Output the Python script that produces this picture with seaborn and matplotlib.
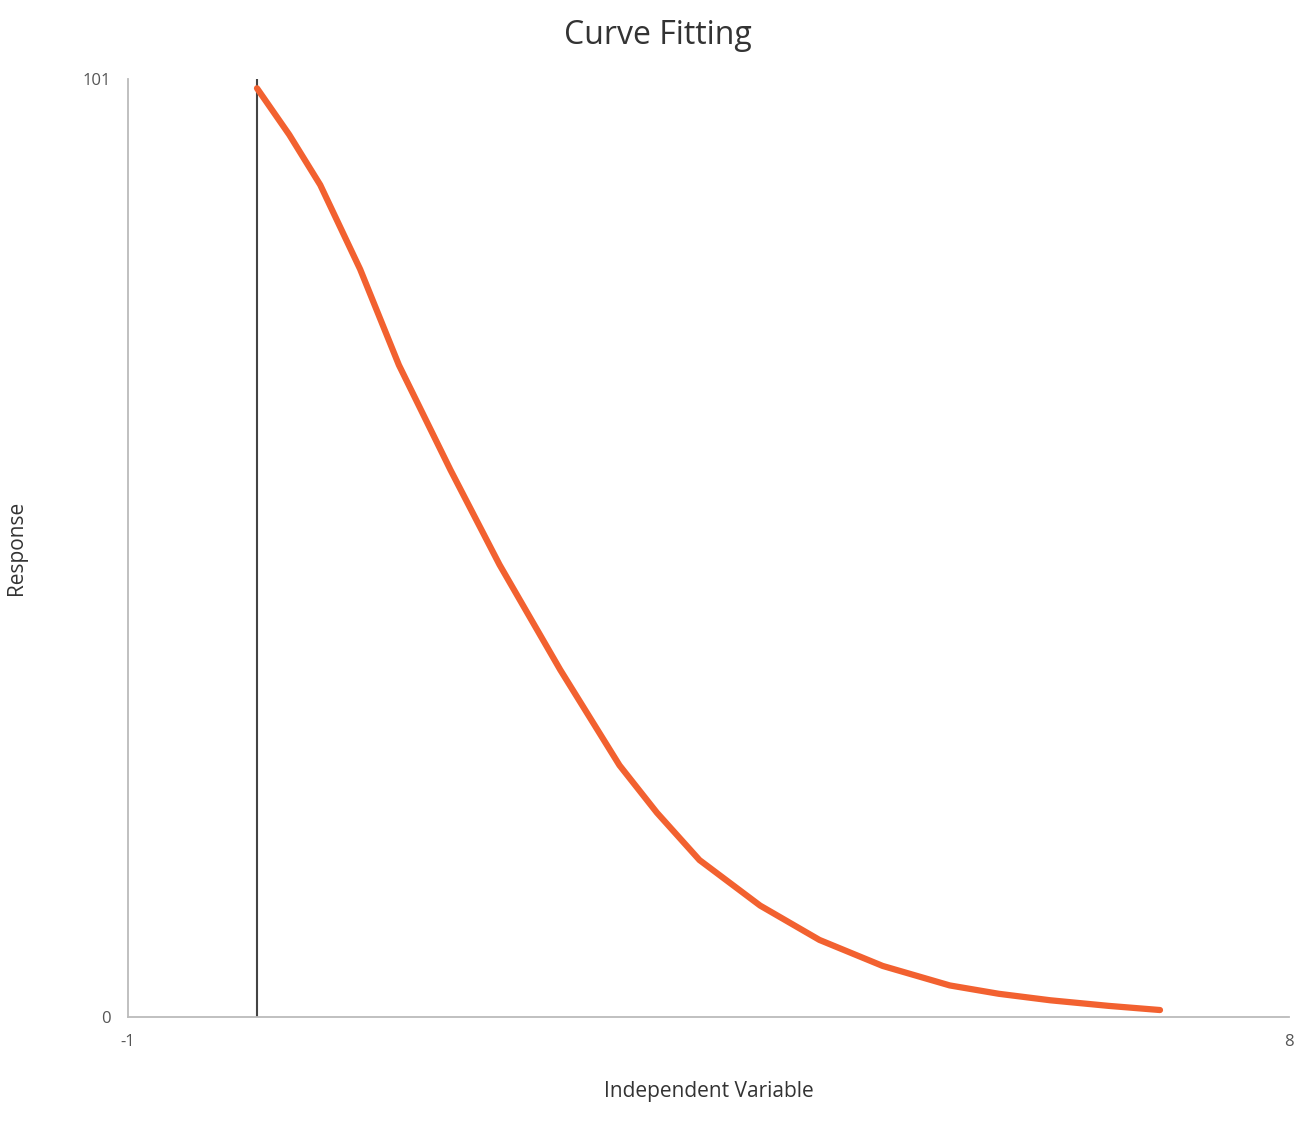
import matplotlib
matplotlib.use("Agg")
import matplotlib.pyplot as plt
import seaborn as sns
import pandas as pd

x_vals = [0.0, 0.25, 0.49, 0.8, 1.1, 1.5, 1.88, 2.35, 2.81, 3.1, 3.43, 3.9, 4.36, 4.85, 5.37, 5.75, 6.15, 6.6, 7.0]
y_vals = [100.0, 95.0, 89.6, 80.5, 70.2, 58.9, 48.7, 37.4, 27.1, 22.0, 16.9, 12.0, 8.3, 5.5, 3.4, 2.5, 1.8, 1.2, 0.75]
x_ticks = [-1, 0.8, 2.6, 4.4, 6.2, 8]
x_labels = ["-1", "", "", "", "", "8"]
y_ticks = [0, 20.2, 40.4, 60.6, 80.8, 101]
y_labels = ["0", "", "", "", "", "101"]

sns.set_style("white")
plt.rcParams['font.family'] = ['Open Sans', 'DejaVu Sans']
fig = plt.figure(figsize=(13.16, 11.36), dpi=100)
ax = fig.add_axes([128/1316, 1 - 1017/1136, (1289-128)/1316, (1017-79)/1136])
df = pd.DataFrame({"x": x_vals, "y": y_vals})
ax.axvline(0, color="#444444", lw=1.5)
sns.lineplot(data=df, x="x", y="y", ax=ax, color="#f26130", lw=4.5, solid_capstyle="round")
ax.set_xlim(-1, 8)
ax.set_ylim(0, 101)
ax.set_xticks(x_ticks)
ax.set_xticklabels(x_labels)
ax.set_yticks(y_ticks)
ax.set_yticklabels(y_labels)
for s in ["top", "right"]:
    ax.spines[s].set_visible(False)
for s in ["left", "bottom"]:
    ax.spines[s].set_color("#bbbbbb")
    ax.spines[s].set_linewidth(1.3)
ax.tick_params(axis="both", length=9, color="#bbbbbb", labelsize=12, labelcolor="#555555", width=1.3)
ax.set_xlabel("Independent Variable", fontsize=15, color="#333333", labelpad=22)
ax.set_ylabel("Response", fontsize=15, color="#333333", labelpad=40)
fig.text(0.5, 1 - 35/1136, "Curve Fitting", ha="center", va="center", fontsize=23, color="#333333")
fig.savefig("out.png", dpi=100)
